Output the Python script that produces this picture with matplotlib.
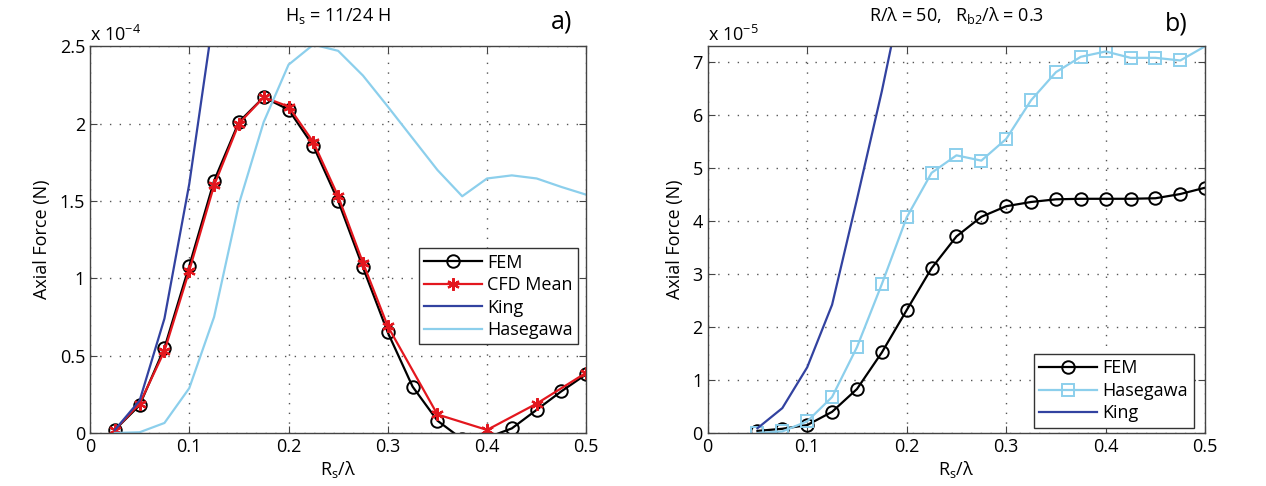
import numpy as np
import matplotlib
matplotlib.use("Agg")
import matplotlib.pyplot as plt

plt.rcParams['font.family'] = ['Open Sans', 'DejaVu Sans']
plt.rcParams['mathtext.fontset'] = 'custom'
plt.rcParams['mathtext.rm'] = 'Open Sans'
plt.rcParams['mathtext.it'] = 'Open Sans'
plt.rcParams['font.size'] = 13

# ---- panel a) values in units of 1e-4 N ----
x_fem_a = [0.025, 0.05, 0.075, 0.1, 0.125, 0.15, 0.175, 0.2, 0.225, 0.25,
           0.275, 0.3, 0.325, 0.35, 0.375, 0.4, 0.425, 0.45, 0.475, 0.5]
fem_a = [0.02, 0.18, 0.55, 1.08, 1.63, 2.01, 2.17, 2.09, 1.855, 1.50,
         1.07, 0.65, 0.30, 0.08, -0.04, -0.03, 0.03, 0.15, 0.27, 0.38]

x_cfd_a = [0.025, 0.05, 0.075, 0.1, 0.125, 0.15, 0.175, 0.2, 0.225, 0.25,
           0.275, 0.3, 0.35, 0.4, 0.45, 0.5]
cfd_a = [0.02, 0.19, 0.53, 1.05, 1.60, 2.00, 2.17, 2.11, 1.88, 1.53,
         1.10, 0.69, 0.12, 0.02, 0.19, 0.39]

x_king_a = [0.025, 0.05, 0.075, 0.1, 0.125]
king_a = [0.02, 0.21, 0.74, 1.61, 2.72]

x_has_a = [0.025, 0.05, 0.075, 0.1, 0.125, 0.15, 0.175, 0.2, 0.225, 0.25,
           0.275, 0.3, 0.325, 0.35, 0.375, 0.4, 0.425, 0.45, 0.475, 0.5]
has_a = [0.0, 0.005, 0.065, 0.29, 0.75, 1.48, 2.01, 2.38, 2.51, 2.47,
         2.31, 2.11, 1.905, 1.70, 1.53, 1.645, 1.665, 1.645, 1.59, 1.54]

# ---- panel b) values in units of 1e-5 N ----
x_b = [0.05, 0.075, 0.1, 0.125, 0.15, 0.175, 0.2, 0.225, 0.25, 0.275,
       0.3, 0.325, 0.35, 0.375, 0.4, 0.425, 0.45, 0.475, 0.5]
fem_b = [0.04, 0.08, 0.15, 0.40, 0.83, 1.52, 2.32, 3.11, 3.71, 4.08,
         4.28, 4.36, 4.41, 4.42, 4.42, 4.42, 4.43, 4.51, 4.63]
has_b = [0.0, 0.03, 0.22, 0.68, 1.62, 2.81, 4.07, 4.91, 5.24, 5.14,
         5.55, 6.28, 6.81, 7.10, 7.20, 7.08, 7.08, 7.03, 7.30]

x_king_b = [0.05, 0.075, 0.1, 0.125, 0.15, 0.175, 0.2]
king_b = [0.09, 0.47, 1.24, 2.42, 4.41, 6.45, 8.7]

c_red = '#e3171e'
c_king = '#3242a0'
c_has = '#8ccfec'

fig = plt.figure(figsize=(12.66, 4.86), dpi=100)
ax1 = fig.add_axes([0.0711, 0.109, 0.392, 0.796])
ax2 = fig.add_axes([0.559, 0.109, 0.393, 0.796])


def style(ax):
    ax.grid(True, linestyle=(0, (1, 6)), color='#555555', linewidth=1.0)
    ax.tick_params(direction='in', top=True, right=True, length=5, labelsize=13,
                   color='#444444')
    for s in ax.spines.values():
        s.set_linewidth(1.0)
        s.set_color('#444444')
    ax.set_xlim(0, 0.5)
    ax.set_xticks([0, 0.1, 0.2, 0.3, 0.4, 0.5])
    ax.set_xticklabels(['0', '0.1', '0.2', '0.3', '0.4', '0.5'])
    ax.set_xlabel(r'R$_\mathregular{s}$/λ', fontsize=13, labelpad=2)
    ax.set_ylabel('Axial Force (N)', fontsize=13, labelpad=6)


# panel a
ax1.plot(x_fem_a, fem_a, color='black', lw=1.6, marker='o', ms=9, mfc='none',
         mew=1.4, label='FEM')
ax1.plot(x_cfd_a, cfd_a, color=c_red, lw=1.6, marker=(6, 2, 0), ms=9, mew=1.6,
         label='CFD Mean')
ax1.plot(x_king_a, king_a, color=c_king, lw=1.6, label='King')
ax1.plot(x_has_a, has_a, color=c_has, lw=1.6, label='Hasegawa')
style(ax1)
ax1.set_ylim(0, 2.5)
ax1.set_yticks([0, 0.5, 1, 1.5, 2, 2.5])
ax1.set_yticklabels(['0', '0.5', '1', '1.5', '2', '2.5'])
ax1.text(0, 1.003, r'x 10$^{-4}$', transform=ax1.transAxes, fontsize=13,
         ha='left', va='bottom')
ax1.set_title(r'H$_\mathregular{s}$ = 11/24 H', fontsize=13, pad=18)
ax1.text(0.972, 1.062, 'a)', transform=ax1.transAxes, fontsize=18,
         ha='right', va='center')
ax1.legend(loc='upper right', bbox_to_anchor=(0.984, 0.478), borderaxespad=0,
           fancybox=False, edgecolor='#333333', framealpha=1, handlelength=3.2,
           fontsize=13, borderpad=0.3, labelspacing=0.25, handletextpad=0.3)

# panel b
ax2.plot(x_b, fem_b, color='black', lw=1.6, marker='o', ms=9, mfc='none',
         mew=1.4, label='FEM')
ax2.plot(x_b, has_b, color=c_has, lw=1.6, marker='s', ms=8, mfc='none',
         mew=1.4, markevery=slice(0, len(x_b) - 1), label='Hasegawa')
ax2.plot(x_king_b, king_b, color=c_king, lw=1.6, label='King')
style(ax2)
ax2.set_ylim(0, 7.3)
ax2.set_yticks(range(8))
ax2.text(0, 1.003, r'x 10$^{-5}$', transform=ax2.transAxes, fontsize=13,
         ha='left', va='bottom')
ax2.set_title(r'R/λ = 50,   R$_\mathregular{b2}$/λ = 0.3', fontsize=13, pad=18)
ax2.text(0.964, 1.058, 'b)', transform=ax2.transAxes, fontsize=18,
         ha='right', va='center')
ax2.legend(loc='lower right', bbox_to_anchor=(0.995, -0.01), fancybox=False,
           edgecolor='#333333', framealpha=1, handlelength=3.2, fontsize=13,
           borderpad=0.3, labelspacing=0.25, handletextpad=0.3)

fig.savefig('out.png', dpi=100)
